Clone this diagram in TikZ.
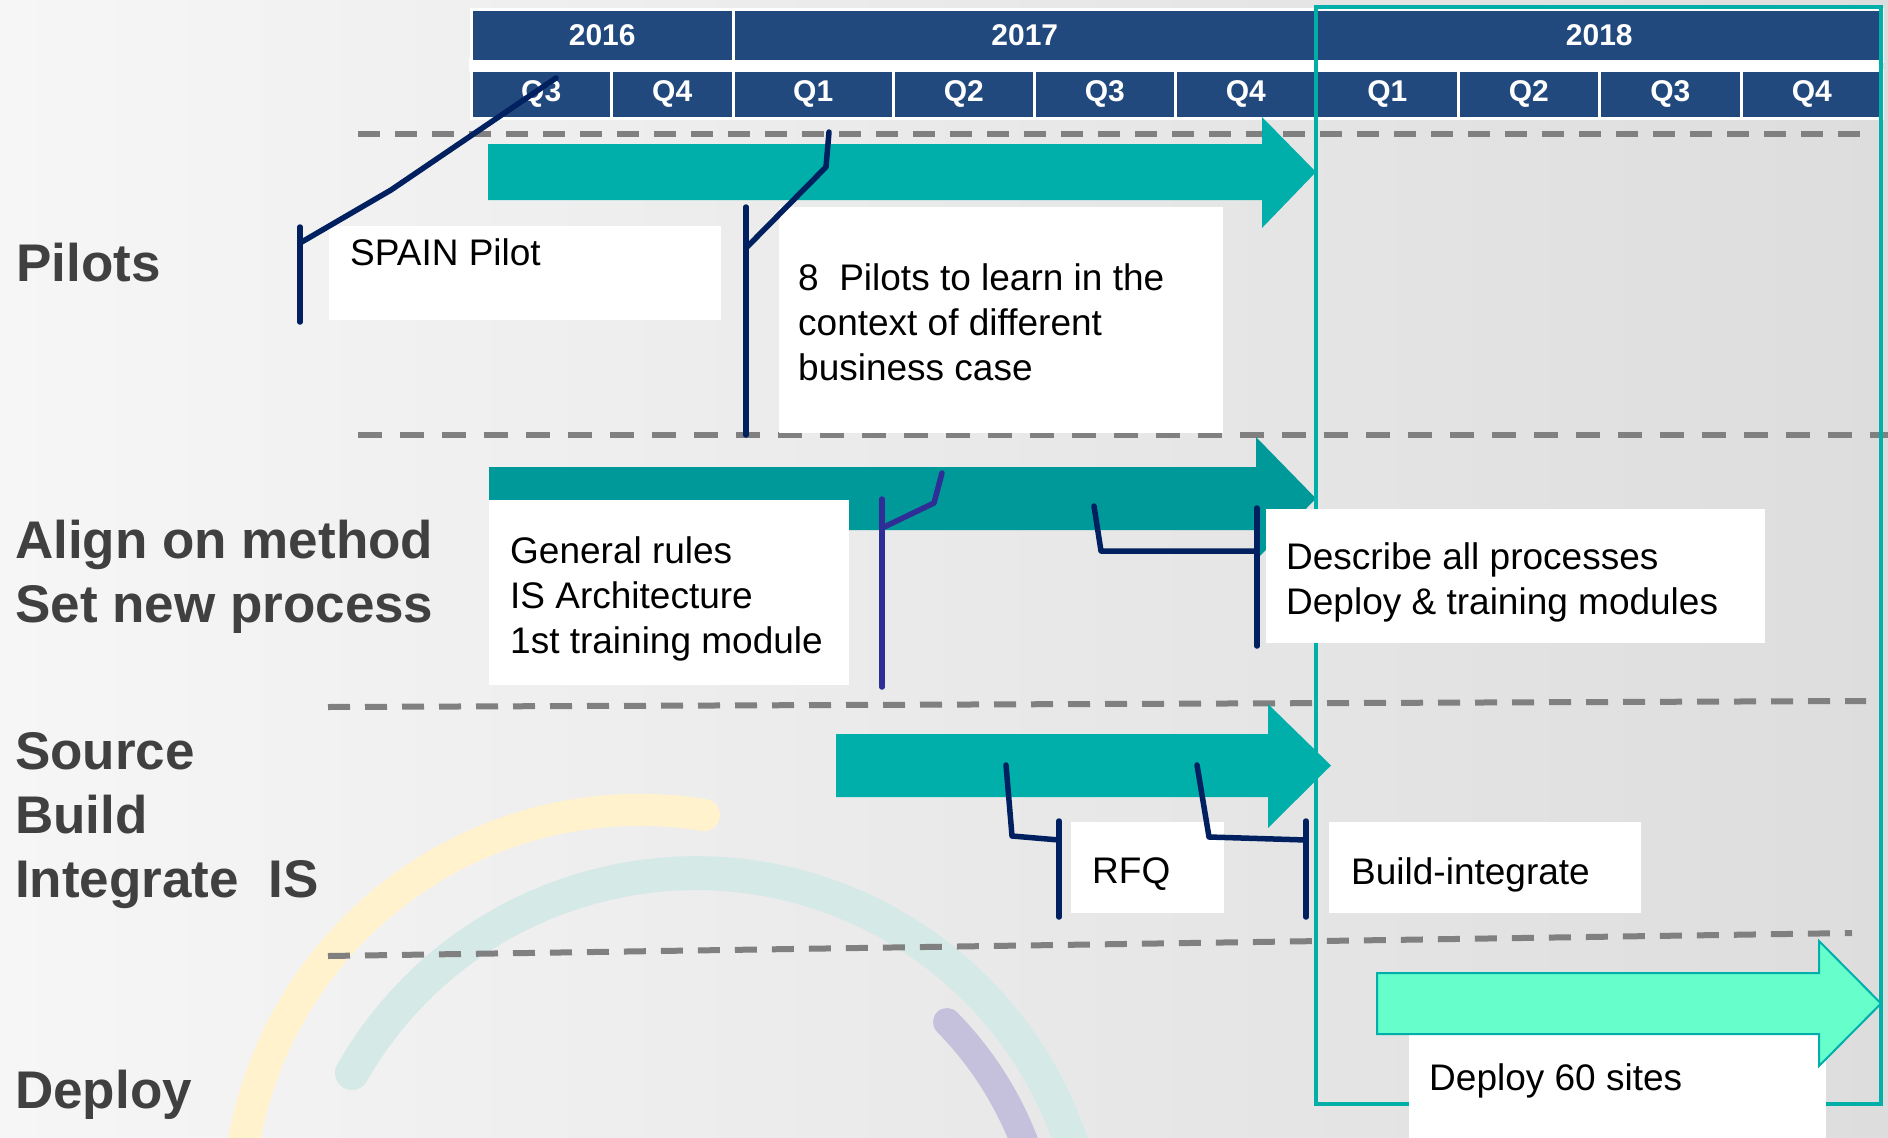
\documentclass[tikz,border=0pt]{standalone}
\usepackage{fontspec}
\setmainfont{Liberation Sans}
\definecolor{hdrblue}{RGB}{33,73,125}
\definecolor{tealA}{RGB}{0,175,170}
\definecolor{tealB}{RGB}{0,153,153}
\definecolor{tealbox}{RGB}{0,176,168}
\definecolor{mint}{RGB}{102,255,204}
\definecolor{navy}{RGB}{0,32,96}
\definecolor{violetblue}{RGB}{46,46,150}
\definecolor{dashgray}{RGB}{128,128,128}
\definecolor{lblgray}{RGB}{64,64,64}
\definecolor{arcyellow}{RGB}{255,242,204}
\definecolor{arcteal}{RGB}{213,233,230}
\definecolor{arcpurple}{RGB}{197,193,221}
\definecolor{bgl}{RGB}{246,246,246}
\definecolor{bgr}{RGB}{221,221,221}
\begin{document}
\begin{tikzpicture}[x=1pt,y=-1pt,
  hcell/.style={fill=hdrblue, draw=white, line width=2.5pt, inner sep=0pt, text=white,
    font=\bfseries\fontsize{30}{36}\selectfont, anchor=north west},
  sepline/.style={draw=dashgray, line width=6pt, dash pattern=on 22pt off 15pt},
  lbl/.style={anchor=north west, inner sep=0pt, text=lblgray,
    font=\bfseries\fontsize{53}{64}\selectfont, align=left},
  wbox/.style={fill=white, draw=none, inner sep=0pt, anchor=north west},
  btxt/.style={anchor=north west, inner sep=0pt, font=\fontsize{37}{45}\selectfont,
    align=left, text=black},
  callout/.style={draw=navy, line width=5.5pt, line cap=round, line join=round},
  deco/.style={line cap=round}
]
\useasboundingbox (0,0) rectangle (1888,1138);
% background
\shade[left color=bgl, right color=bgr] (0,0) rectangle (1888,1138);

% decorative arcs
\begin{scope}
\clip (0,0) rectangle (1888,1138);
\draw[deco, draw=arcyellow, line width=32pt] (704,815) arc[start angle=279.2, end angle=185, radius=402];
\draw[deco, draw=arcteal, line width=34pt] (352,1073) arc[start angle=209.7, end angle=350, radius=396];
\draw[deco, draw=arcpurple, line width=28pt] (947,1022) arc[start angle=315.5, end angle=340, radius=352];
\end{scope}

% dashed separators
\draw[sepline] (358,134) -- (1866,134);
\draw[sepline, dash pattern=on 24pt off 18pt] (358,435) -- (1888,435);
\draw[sepline] (328,707) -- (1866,701);
\draw[sepline] (328,956) -- (1852,933);

% header
\fill[white] (469,58) rectangle (1882,71);
\node[hcell, minimum width=262, minimum height=52] (y2016) at (470,8) {2016};
\node[hcell, minimum width=583, minimum height=52] (y2017) at (732,8) {2017};
\node[hcell, minimum width=566, minimum height=52] (y2018) at (1315,8) {2018};
\node[hcell, minimum width=140, minimum height=48] (q16c) at (470,69) {Q3};
\node[hcell, minimum width=122, minimum height=48] (q16d) at (610,69) {Q4};
\node[hcell, minimum width=160, minimum height=48] (q17a) at (732,69) {Q1};
\node[hcell, minimum width=141, minimum height=48] (q17b) at (892,69) {Q2};
\node[hcell, minimum width=141, minimum height=48] (q17c) at (1033,69) {Q3};
\node[hcell, minimum width=141, minimum height=48] (q17d) at (1174,69) {Q4};
\node[hcell, minimum width=142, minimum height=48] (q18a) at (1315,69) {Q1};
\node[hcell, minimum width=141, minimum height=48] (q18b) at (1457,69) {Q2};
\node[hcell, minimum width=142, minimum height=48] (q18c) at (1598,69) {Q3};
\node[hcell, minimum width=141, minimum height=48] (q18d) at (1740,69) {Q4};

% arrows
\fill[tealA] (488,144) -- (1262,144) -- (1262,117) -- (1316,172) -- (1262,228) -- (1262,200) -- (488,200) -- cycle;
\fill[tealB] (489,467) -- (1256,467) -- (1256,437) -- (1316,498.5) -- (1256,560) -- (1256,530) -- (489,530) -- cycle;
\fill[tealA] (836,734) -- (1268,734) -- (1268,704) -- (1331,765.5) -- (1268,828) -- (1268,797) -- (836,797) -- cycle;

% 2018 frame
\draw[draw=tealbox, line width=3.5pt] (1316,7) rectangle (1881,1104);

% white boxes
\node[wbox, minimum width=392, minimum height=94] (spainbox) at (329,226) {};
\node[wbox, minimum width=444, minimum height=226] (eightbox) at (779,207) {};
\node[wbox, minimum width=360, minimum height=185] (genbox) at (489,500) {};
\node[wbox, minimum width=499, minimum height=134] (descbox) at (1266,509) {};
\node[wbox, minimum width=153, minimum height=91] (rfqbox) at (1071,822) {};
\node[wbox, minimum width=312, minimum height=91] (buildbox) at (1329,822) {};
\node[wbox, minimum width=417, minimum height=140] (deploybox) at (1409,1000) {};

% deploy arrow
\draw[fill=mint, draw=tealA, line width=2pt, line join=miter] (1377,973) -- (1819,973) -- (1819,941) -- (1881,1003.5) -- (1819,1066) -- (1819,1034) -- (1377,1034) -- cycle;

% box texts
\node[btxt] (spaintxt) at (350,238) {SPAIN Pilot};
\node[btxt] (eighttxt) at (798,263) {8~ Pilots to learn in the\\context of different\\business case};
\node[btxt] (gentxt) at (510,536) {General rules\\IS Architecture\\1st training module};
\node[btxt] (desctxt) at (1286,542) {Describe all processes\\Deploy \& training modules};
\node[btxt] (rfqtxt) at (1092,857) {RFQ};
\node[btxt] (buildtxt) at (1351,857) {Build-integrate};
\node[btxt] (deploytxt) at (1429,1063) {Deploy 60 sites};

% row labels
\node[lbl] (lpilots) at (16,243) {Pilots};
\node[lbl] (lalign) at (15,520) {Align on method\\Set new process};
\node[lbl] (lsource) at (15,732) {Source\\Build\\Integrate~ IS};
\node[lbl] (ldeploy) at (15,1070) {Deploy};

% callout coordinates
\coordinate (c1a) at (300,227); \coordinate (c1b) at (300,322); \coordinate (c1c) at (300,243);
\coordinate (c1d) at (391,190); \coordinate (c1e) at (556,78);
\coordinate (c2a) at (746,207); \coordinate (c2b) at (746,435); \coordinate (c2c) at (746,248);
\coordinate (c2d) at (826,167); \coordinate (c2e) at (829,132);
\coordinate (c3a) at (882,499); \coordinate (c3b) at (882,687); \coordinate (c3c) at (882,528);
\coordinate (c3d) at (934,503); \coordinate (c3e) at (942,473);
\coordinate (c4a) at (1257,508); \coordinate (c4b) at (1257,646); \coordinate (c4c) at (1257,551);
\coordinate (c4d) at (1101,551); \coordinate (c4e) at (1094,506);
\coordinate (c5a) at (1059,821); \coordinate (c5b) at (1059,917); \coordinate (c5c) at (1059,840);
\coordinate (c5d) at (1012,836); \coordinate (c5e) at (1006,765);
\coordinate (c6a) at (1306,821); \coordinate (c6b) at (1306,917); \coordinate (c6c) at (1306,840);
\coordinate (c6d) at (1209,837); \coordinate (c6e) at (1197,765);

% callouts
\draw[callout] (c1a) -- (c1b);
\draw[callout] (c1c) -- (c1d) -- (c1e);
\draw[callout] (c2a) -- (c2b);
\draw[callout] (c2c) -- (c2d) -- (c2e);
\draw[callout, draw=violetblue] (c3a) -- (c3b);
\draw[callout, draw=violetblue] (c3c) -- (c3d) -- (c3e);
\draw[callout] (c4a) -- (c4b);
\draw[callout] (c4c) -- (c4d) -- (c4e);
\draw[callout] (c5a) -- (c5b);
\draw[callout] (c5c) -- (c5d) -- (c5e);
\draw[callout] (c6a) -- (c6b);
\draw[callout] (c6c) -- (c6d) -- (c6e);
\end{tikzpicture}
\end{document}
